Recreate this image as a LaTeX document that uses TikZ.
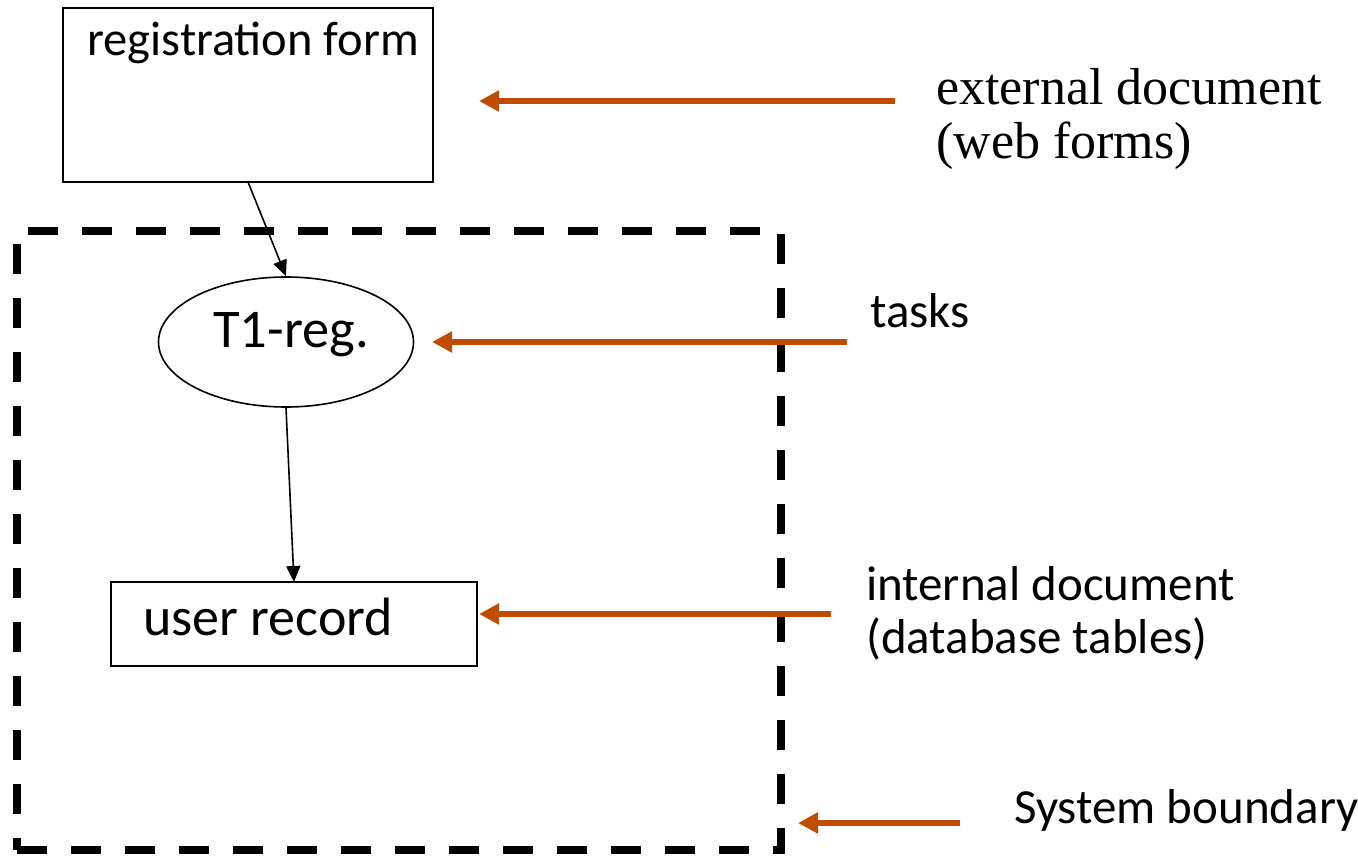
\documentclass[tikz,border=0pt]{standalone}
\usepackage{fontspec}
\setmainfont{Carlito}
\newfontfamily\docserif{Liberation Serif}
\usetikzlibrary{arrows.meta,shapes.geometric}
\definecolor{callout}{RGB}{192,76,0}
\begin{document}
\begin{tikzpicture}[x=1pt,y=-1pt,
  box/.style={draw,line width=1.8pt,inner sep=0pt,outer sep=0pt},
  flow/.style={line width=1.6pt,-{Triangle[length=16pt,width=14pt]}},
  callarrow/.style={draw=callout,line width=6pt,-{Triangle[length=20pt,width=20pt]}},
  lbl/.style={anchor=base west,inner sep=0pt,font=\fontsize{49}{56}\selectfont},
  serlbl/.style={anchor=base west,inner sep=0pt,font=\docserif\fontsize{52}{60}\selectfont},
  big/.style={inner sep=0pt,font=\fontsize{54.5}{60}\selectfont},
  boundarybox/.style={draw,line width=8pt,dash pattern=on 30pt off 24pt,inner sep=0pt,outer sep=0pt}
]
\useasboundingbox (0,0) rectangle (1358,856);

% system boundary
\node[boundarybox,minimum width=764pt,minimum height=619pt] (sys) at (399,540.5) {};

% external document
\node[box,minimum width=370pt,minimum height=174pt] (form) at (248,95) {};
\node[lbl,font=\fontsize{48.5}{56}\selectfont] (formtext) at (87,56) {registration form};

% task
\node[draw,ellipse,line width=1.6pt,minimum width=255pt,minimum height=130pt,inner sep=0pt] (task) at (286,342) {};
\node[big,anchor=base] (tasktext) at (291,347) {T1-reg.};

% internal document
\node[box,minimum width=366pt,minimum height=84pt] (rec) at (294,624) {};
\node[big,font=\fontsize{54}{60}\selectfont,anchor=base west] (rectext) at (143,635) {user record};

% flow between documents and task
\draw[flow] (form.south) -- (task.north);
\draw[flow] (task.south) -- (rec.north);

% legend labels
\node[serlbl] (extA) at (936,105) {external document};
\node[serlbl] (extB) at (936,159) {(web forms)};
\node[lbl] (tasks) at (870,327) {tasks};
\node[lbl] (intA) at (866,600) {internal document};
\node[lbl] (intB) at (866,653) {(database tables)};
\node[lbl] (sysl) at (1014,823) {System boundary};

% legend arrows
\coordinate (extS) at (895,101);  \coordinate (extT) at (479,101);
\coordinate (tskS) at (847,342);  \coordinate (tskT) at (432,342);
\coordinate (intS) at (831,614);  \coordinate (intT) at (479,614);
\coordinate (sysS) at (960,823);  \coordinate (sysT) at (798,823);
\draw[callarrow] (extS) -- (extT);
\draw[callarrow] (tskS) -- (tskT);
\draw[callarrow] (intS) -- (intT);
\draw[callarrow] (sysS) -- (sysT);
\end{tikzpicture}
\end{document}
